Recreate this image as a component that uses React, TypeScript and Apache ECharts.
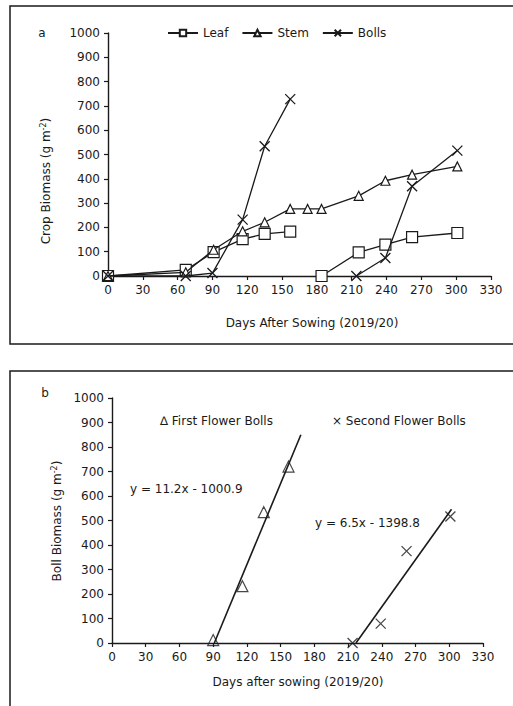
import React, { useEffect, useRef } from "react";
import * as echarts from "echarts";

// ---------- Panel a data ----------
const leafDays = [0, 67, 91, 116, 135, 157, 170, 184, 216, 239, 262, 301];
const leafValues = [0, 25, 98, 152, 173, 183, null, 0, 97, 129, 160, 177];
const stemDays = [0, 67, 91, 116, 135, 157, 172, 184, 216, 239, 262, 301];
const stemValues = [0, 15, 108, 184, 221, 276, 276, 276, 330, 392, 417, 451];
const bollDays = [0, 67, 90, 116, 135, 157, 185, 214, 239, 262, 301];
const bollValues = [0, 0, 12, 232, 534, 728, null, 0, 74, 369, 516];

// ---------- Panel b data ----------
const firstDays = [90, 116, 135, 157];
const firstValues = [12, 232, 534, 720];
const secondDays = [214, 239, 262, 301];
const secondValues = [0, 79, 375, 516];
const trend1Days = [91, 168];
const trend1Values = [0, 850];
const trend2Days = [217, 302];
const trend2Values = [0, 546];

const xTicks = { min: 0, max: 330, interval: 30 };
const yTicks = { min: 0, max: 1000, interval: 100 };

const FONT = "DejaVu Sans";
const INK = "#1a1a1a";
const CROSS = "path://M0,0L10,10M10,0L0,10";

const pairs = (xs: number[], ys: (number | null)[]) =>
  xs.map((x, i) => [x, ys[i] === null ? "-" : ys[i]]);

export default function App() {
  const ref = useRef<HTMLDivElement>(null);
  useEffect(() => {
    if (!ref.current) return;
    const chart = echarts.init(ref.current, null, { renderer: "svg" });
    const axisX = (gridIndex: number) => ({
      type: "value" as const,
      gridIndex,
      ...xTicks,
      axisLine: { show: true, onZero: false, lineStyle: { color: INK, width: 1.4 } },
      axisTick: { show: true, inside: false, length: 4, lineStyle: { color: INK, width: 1.2 } },
      axisLabel: { color: INK, fontFamily: FONT, fontSize: 12, margin: 8, formatter: (v: number) => String(v) },
      splitLine: { show: false },
    });
    const axisY = (gridIndex: number) => ({
      type: "value" as const,
      gridIndex,
      ...yTicks,
      axisLine: { show: true, lineStyle: { color: INK, width: 1.4 } },
      axisTick: { show: true, inside: false, length: 4, lineStyle: { color: INK, width: 1.2 } },
      axisLabel: { color: INK, fontFamily: FONT, fontSize: 12, margin: 8, formatter: (v: number) => String(v) },
      splitLine: { show: false },
    });
    const markerStyle = { color: "#fff", borderColor: INK, borderWidth: 1.2 };
    const lineStyle = { color: INK, width: 1.3 };
    chart.setOption({
      animation: false,
      backgroundColor: "#fff",
      textStyle: { fontFamily: FONT, color: INK },
      grid: [
        { left: 108, top: 33, width: 383, height: 243 },
        { left: 112, top: 398, width: 371, height: 245 },
      ],
      xAxis: [axisX(0), axisX(1)],
      yAxis: [axisY(0), axisY(1)],
      legend: {
        left: 162,
        top: 22,
        itemWidth: 30,
        itemHeight: 8,
        itemGap: 13,
        textStyle: { fontFamily: FONT, fontSize: 12, color: INK },
        data: ["Leaf", "Stem", "Bolls"],
      },
      series: [
        {
          name: "Leaf",
          type: "line",
          xAxisIndex: 0,
          yAxisIndex: 0,
          data: pairs(leafDays, leafValues),
          symbol: "rect",
          symbolSize: 11,
          itemStyle: markerStyle,
          lineStyle,
          connectNulls: false,
          z: 3,
        },
        {
          name: "Stem",
          type: "line",
          xAxisIndex: 0,
          yAxisIndex: 0,
          data: pairs(stemDays, stemValues),
          symbol: "triangle",
          symbolSize: 9,
          itemStyle: markerStyle,
          lineStyle,
          z: 4,
        },
        {
          name: "Bolls",
          type: "line",
          xAxisIndex: 0,
          yAxisIndex: 0,
          data: pairs(bollDays, bollValues),
          symbol: CROSS,
          symbolSize: 10,
          itemStyle: { color: "none", borderColor: INK, borderWidth: 1.3 },
          lineStyle,
          connectNulls: false,
          z: 5,
        },
        {
          name: "First Flower Bolls",
          type: "scatter",
          xAxisIndex: 1,
          yAxisIndex: 1,
          data: pairs(firstDays, firstValues),
          symbol: "triangle",
          symbolSize: 11,
          itemStyle: { color: "none", borderColor: INK, borderWidth: 1.2 },
          z: 4,
        },
        {
          name: "First trend",
          type: "line",
          xAxisIndex: 1,
          yAxisIndex: 1,
          data: pairs(trend1Days, trend1Values),
          showSymbol: false,
          symbol: "none",
          lineStyle: { color: INK, width: 1.6 },
          z: 3,
        },
        {
          name: "Second Flower Bolls",
          type: "scatter",
          xAxisIndex: 1,
          yAxisIndex: 1,
          data: pairs(secondDays, secondValues),
          symbol: CROSS,
          symbolSize: 10,
          itemStyle: { color: "none", borderColor: INK, borderWidth: 1.3 },
          z: 4,
        },
        {
          name: "Second trend",
          type: "line",
          xAxisIndex: 1,
          yAxisIndex: 1,
          data: pairs(trend2Days, trend2Values),
          showSymbol: false,
          symbol: "none",
          lineStyle: { color: INK, width: 1.6 },
          z: 3,
        },
      ],
      graphic: [
        {
          type: "rect",
          shape: { x: 10, y: 6, width: 510, height: 338 },
          style: { fill: "none", stroke: INK, lineWidth: 1.5 },
          z: -1,
        },
        {
          type: "rect",
          shape: { x: 10, y: 371, width: 510, height: 350 },
          style: { fill: "none", stroke: INK, lineWidth: 1.5 },
          z: -1,
        },
        {
          type: "text",
          x: 42,
          y: 33,
          style: { text: "a", fontFamily: FONT, fontSize: 12, fill: INK, align: "center", verticalAlign: "middle" },
        },
        {
          type: "text",
          x: 45,
          y: 393,
          style: { text: "b", fontFamily: FONT, fontSize: 12, fill: INK, align: "center", verticalAlign: "middle" },
        },
        {
          type: "text",
          x: 46,
          y: 181,
          rotation: Math.PI / 2,
          style: {
            text: "{t|Crop Biomass (g m}{s|-2}{t|)}",
            align: "center",
            verticalAlign: "middle",
            fill: INK,
            rich: {
              t: { fontFamily: FONT, fontSize: 12, fill: INK },
              s: { fontFamily: FONT, fontSize: 8, fill: INK, verticalAlign: "top", padding: [0, 0, 6, 0] },
            },
          },
        },
        {
          type: "text",
          x: 312,
          y: 323,
          style: { text: "Days After Sowing (2019/20)", fontFamily: FONT, fontSize: 12, fill: INK, align: "center", verticalAlign: "middle" },
        },
        {
          type: "text",
          x: 57,
          y: 521,
          rotation: Math.PI / 2,
          style: {
            text: "{t|Boll Biomass (g m}{s|-2}{t|)}",
            align: "center",
            verticalAlign: "middle",
            fill: INK,
            rich: {
              t: { fontFamily: FONT, fontSize: 12, fill: INK },
              s: { fontFamily: FONT, fontSize: 8, fill: INK, verticalAlign: "top", padding: [0, 0, 6, 0] },
            },
          },
        },
        {
          type: "text",
          x: 298,
          y: 682,
          style: { text: "Days after sowing (2019/20)", fontFamily: FONT, fontSize: 12, fill: INK, align: "center", verticalAlign: "middle" },
        },
        {
          type: "text",
          x: 160,
          y: 421,
          style: { text: "\u2206 First Flower Bolls", fontFamily: FONT, fontSize: 12, fill: INK, align: "left", verticalAlign: "middle" },
        },
        {
          type: "text",
          x: 332,
          y: 421,
          style: { text: "\u00d7 Second Flower Bolls", fontFamily: FONT, fontSize: 12, fill: INK, align: "left", verticalAlign: "middle" },
        },
        {
          type: "text",
          x: 130,
          y: 489,
          style: { text: "y = 11.2x - 1000.9", fontFamily: FONT, fontSize: 12, fill: INK, align: "left", verticalAlign: "middle" },
        },
        {
          type: "text",
          x: 315,
          y: 523,
          style: { text: "y = 6.5x - 1398.8", fontFamily: FONT, fontSize: 12, fill: INK, align: "left", verticalAlign: "middle" },
        },
      ],
    });
    return () => chart.dispose();
  }, []);
  return (
    <div
      ref={ref}
      style={{ position: "fixed", left: 0, top: 0, width: 513, height: 706, background: "#fff" }}
    />
  );
}
